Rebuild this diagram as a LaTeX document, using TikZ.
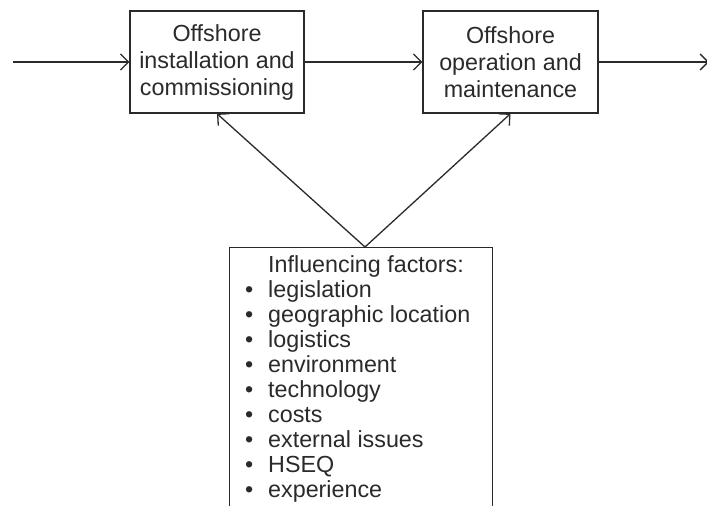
\documentclass[tikz,border=0pt]{standalone}
\usepackage{fontspec}
\setmainfont{Liberation Sans}
\usetikzlibrary{arrows.meta}
\definecolor{ink}{HTML}{2A2A2A}
\tikzset{
  stagebox/.style={draw=ink, line width=1.3pt, rectangle, minimum width=174pt, minimum height=102pt, inner sep=0pt, align=center, text=ink, font=\fontsize{23.3}{27}\selectfont},
  flow/.style={draw=ink, line width=1.3pt, -{Straight Barb[length=8pt,width=16pt,line width=1.3pt]}},
  listtext/.style={inner sep=0pt, align=left, text=ink, font=\fontsize{23.3}{25}\selectfont}
}
\newcommand{\bul}{\makebox[21pt][l]{\hspace*{-2pt}•}}
\begin{document}
\begin{tikzpicture}[x=1pt,y=-1pt]
\useasboundingbox (0,0) rectangle (707,506);
\node[stagebox] (inst) at (217,62) {Offshore\\installation and\\commissioning};
\node[stagebox, minimum width=175pt] (oper) at (510.5,62) {Offshore\\operation and\\maintenance};
\node[draw=ink, line width=1.3pt, rectangle, minimum width=263pt, minimum height=280pt, inner sep=0pt, anchor=north west] (factors) at (229,247) {};
\node[listtext, anchor=north west] (flist) at (247,255) {\hspace*{21pt}Influencing factors:\\
\bul legislation\\
\bul geographic location\\
\bul logistics\\
\bul environment\\
\bul technology\\
\bul costs\\
\bul external issues\\
\bul HSEQ\\
\bul experience};
\coordinate (start) at (13,62);
\coordinate (finish) at (709,62);
\coordinate (apex) at (365,247);
\draw[flow] (start) -- (inst.west);
\draw[flow] (inst.east) -- (oper.west);
\draw[flow] (oper.east) -- (finish);
\draw[flow] (apex) -- (inst.south);
\draw[flow] (apex) -- (oper.south);
\end{tikzpicture}
\end{document}
